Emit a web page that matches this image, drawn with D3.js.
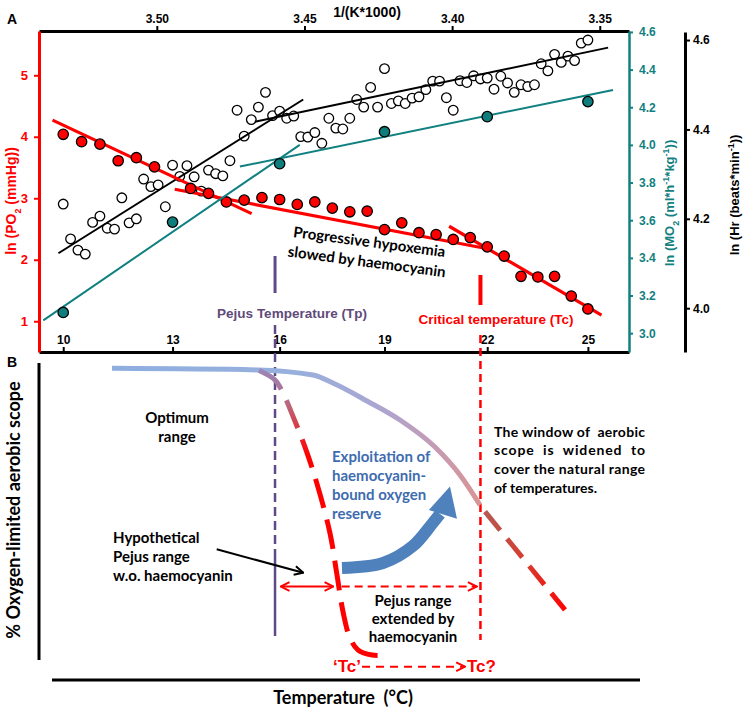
<!DOCTYPE html>
<html><head><meta charset="utf-8">
<script src="https://cdn.jsdelivr.net/npm/d3@7"></script>
<style>body{margin:0;background:#fff}svg{display:block}</style>
</head><body>
<svg id="c" width="744" height="712"></svg>
<script>
// ---------------- DATA ----------------
// Panel A: ln PO2 (red), ln MO2 (teal), ln Hr (open circles) vs temperature (°C)
const po2Temps = [10,10.5,11,11.5,12,12.5,13.5,14,14.5,15,15.5,16,16.5,17,17.5,18,18.5,19,19.5,20,20.5,21,21.5,22,22.5,23,23.5,24,24.5,25];
const po2Values = [4.04,3.92,3.88,3.61,3.66,3.51,3.16,3.08,2.94,2.97,3.01,2.98,2.90,2.94,2.84,2.78,2.79,2.49,2.60,2.44,2.41,2.33,2.36,2.21,2.06,1.73,1.72,1.73,1.41,1.20];
const mo2Temps = [10,13,16,19,22,25];
const mo2Values = [3.11,3.59,3.90,4.07,4.15,4.23];
const hrTemps = [10.0,10.2,10.4,10.6,10.8,11.0,11.2,11.4,11.6,11.8,12.0,12.2,12.4,12.6,12.8,13.0,13.2,13.4,13.6,13.8,14.0,14.2,14.4,14.6,14.8,15.0,15.2,15.4,15.6,15.8,16.0,16.2,16.4,16.6,16.8,17.0,17.2,17.4,17.6,17.8,18.0,18.2,18.4,18.6,18.8,19.0,19.2,19.4,19.6,19.8,20.0,20.2,20.4,20.6,20.8,21.0,21.2,21.4,21.6,21.8,22.0,22.2,22.4,22.6,22.8,23.0,23.2,23.4,23.6,23.8,24.0,24.2,24.4,24.6,24.8,25.0];
const hrValues = [4.233,4.155,4.130,4.121,4.192,4.206,4.179,4.177,4.247,4.191,
  4.200,4.289,4.272,4.276,4.227,4.320,4.295,4.319,4.294,4.262,
  4.309,4.301,4.296,4.330,4.443,4.385,4.422,4.450,4.483,4.431,
  4.441,4.425,4.430,4.384,4.383,4.393,4.369,4.425,4.403,4.401,
  4.425,4.467,4.450,4.494,4.450,4.536,4.458,4.464,4.458,4.470,
  4.473,4.489,4.508,4.508,4.471,4.443,4.509,4.505,4.520,4.513,
  4.515,4.490,4.519,4.504,4.483,4.500,4.496,4.500,4.547,4.531,
  4.568,4.550,4.564,4.554,4.593,4.600];
// regression segments [temperature, value]
const po2Fits = [[[9.71,4.27],[15.21,2.75]], [[13.06,3.146],[21.93,2.187]], [[20.88,2.545],[25.41,1.098]]];
const mo2Fits = [[[9.46,3.068],[16.57,4.0]], [[14.88,3.885],[25.76,4.292]]];
const hrFits  = [[[9.87,4.123],[16.67,4.467]], [[15.30,4.417],[25.61,4.583]]];
const pejusT = 15.87, criticalT = 21.8;
// tick labels
const invKTicks = [3.50,3.45,3.40,3.35];
const tempTicks = [10,13,16,19,22,25];
const po2Ticks = [1,2,3,4,5];
const mo2Ticks = [3.0,3.2,3.4,3.6,3.8,4.0,4.2,4.4,4.6];
const hrTicks = [4.0,4.2,4.4,4.6];

// Panel B (conceptual, units: temperature 0-100, scope 0-100)
const optimumCurve = [[12,97.4],[36.17,96.9],[45.5,95.3],[49.17,92.5],[54.5,87.2],[60,81.25],[65.83,72.8],[70,64.06],[73.33,54.7]];
const widenedTail = [[74.17,52.6],[87.5,21.9]];
const hypoCurve = [[36.5,96.7],[39.17,93.75],[40.5,89.7],[41.95,83.4],[44.17,72.8],[46.12,61.6],[48.33,45.9],[49.45,33.4],[50.55,20.9],[51.67,13.1],[53,9.4],[55.33,7.8],[57.67,7.8]];
const blueArrowBody = [[50.33,35],[57.17,36.56],[62.17,41.9],[65.33,48.75],[66.67,51.9]];
const blueArrowHead = [[68.33,60.5],[64.8,53.1],[69.5,50.4]];
const hypoRange = [[40.12,29.2],[48.89,29.2]];
const extRange = [[50.28,29.2],[72.78,29.2]];
const tcArrow = [[53.67,4.16],[70.83,4.16]];
const blackArrow = [[29.45,40.84],[43.88,33.53]];

// ---------------- DRAW ----------------
const svg = d3.select("#c");
const FA = "'Liberation Sans', Arial, sans-serif";
const FC = "Lato, 'Open Sans', sans-serif";
const RED = "#ff0000", TEAL = "#118080", PURPLE = "#5f4a87", BLUE = "#4f81bd";

const invK = t => 1000/(t+273.15);
const x = d3.scaleLinear().domain([3.5399,3.3401]).range([39,629]);
const xT = t => x(invK(t));
const yPO2 = d3.scaleLinear().domain([0.5,5.72]).range([352,31]);
const yMO2 = d3.scaleLinear().domain([2.9,4.605]).range([352,31]);
const yHR = d3.scaleLinear().domain([3.902,4.618]).range([352,32]);

const defs = svg.append("defs");
function marker(id, color){
  defs.append("marker").attr("id",id).attr("viewBox","0 0 10 10").attr("refX",9).attr("refY",5)
    .attr("markerWidth",11).attr("markerHeight",11).attr("markerUnits","userSpaceOnUse")
    .attr("orient","auto-start-reverse")
    .append("path").attr("d","M1,1 L9,5 L1,9").attr("fill","none").attr("stroke",color).attr("stroke-width",1.8);
}
marker("arR", RED); marker("arK", "#000");

function styleAxis(g, color, w, fs){
  g.select(".domain").attr("stroke",color).attr("stroke-width",w);
  g.selectAll(".tick line").attr("stroke",color).attr("stroke-width",2);
  g.selectAll(".tick text").attr("fill",color).style("font-family",FA).style("font-weight","bold").style("font-size",fs+"px");
}

// axes panel A
const gTop = svg.append("g").attr("transform","translate(0,31)")
  .call(d3.axisTop(x).tickValues(invKTicks).tickFormat(d3.format(".2f")).tickSize(5).tickSizeOuter(0).tickPadding(3));
styleAxis(gTop,"#000",3,12);
const gBot = svg.append("g").attr("transform","translate(0,352)")
  .call(d3.axisTop(x).tickValues(tempTicks.map(invK)).tickFormat((d,i)=>tempTicks[i]).tickSize(5).tickSizeOuter(0).tickPadding(3));
styleAxis(gBot,"#000",3,12);
const gL = svg.append("g").attr("transform","translate(39,0)")
  .call(d3.axisLeft(yPO2).tickValues(po2Ticks).tickFormat(d3.format("d")).tickSize(5).tickSizeOuter(0).tickPadding(6));
styleAxis(gL,RED,3,13);
const gM = svg.append("g").attr("transform","translate(629,0)")
  .call(d3.axisRight(yMO2).tickValues(mo2Ticks).tickFormat(d3.format(".1f")).tickSize(4).tickSizeOuter(0).tickPadding(6));
styleAxis(gM,TEAL,2.5,12);
const gH = svg.append("g").attr("transform","translate(685,0)")
  .call(d3.axisRight(yHR).tickValues(hrTicks).tickFormat(d3.format(".1f")).tickSize(5).tickSizeOuter(0).tickPadding(3));
styleAxis(gH,"#000",3,12);

// axis titles
function txt(xp, yp, s, o){
  o = o || {};
  const t = svg.append("text").attr("x",xp).attr("y",yp).text(s).attr("xml:space","preserve")
    .style("font-family",o.f||FA).style("font-weight","bold").style("font-size",(o.fs||14)+"px")
    .attr("fill",o.c||"#000").attr("text-anchor",o.a||"start");
  if (o.tl) t.attr("textLength",o.tl).attr("lengthAdjust","spacing");
  return t;
}
txt(7,24,"A",{fs:14});
txt(367,17,"1/(K*1000)",{a:"middle",fs:14});
const lt = svg.append("text").attr("transform","translate(16,201) rotate(-90)").attr("text-anchor","middle")
  .style("font-family",FA).style("font-weight","bold").style("font-size","14px").attr("fill",RED);
lt.append("tspan").text("ln (PO");
lt.append("tspan").text("2").attr("baseline-shift","sub").style("font-size","9px");
lt.append("tspan").text(" (mmHg))");
const mt = svg.append("text").attr("transform","translate(674,203) rotate(-90)").attr("text-anchor","middle")
  .style("font-family",FA).style("font-weight","bold").style("font-size","13px").attr("fill",TEAL);
mt.append("tspan").text("ln (MO");
mt.append("tspan").text("2").attr("baseline-shift","sub").style("font-size","9px");
mt.append("tspan").text(" (ml*h");
mt.append("tspan").text("-1").attr("baseline-shift","super").style("font-size","9px");
mt.append("tspan").text("*kg");
mt.append("tspan").text("-1").attr("baseline-shift","super").style("font-size","9px");
mt.append("tspan").text("))");
const ht = svg.append("text").attr("transform","translate(739,195) rotate(-90)").attr("text-anchor","middle")
  .style("font-family",FA).style("font-weight","bold").style("font-size","13px").attr("fill","#000");
ht.append("tspan").text("ln (Hr (beats*min");
ht.append("tspan").text("-1").attr("baseline-shift","super").style("font-size","9px");
ht.append("tspan").text("))");

// data marks panel A
const fitLine = (ys) => d3.line().x(d=>xT(d[0])).y(d=>ys(d[1]));
const hrData = hrTemps.map((t,i)=>[t,hrValues[i]]);
svg.append("g").selectAll("circle").data(hrData).join("circle")
  .attr("cx",d=>xT(d[0])).attr("cy",d=>yHR(d[1])).attr("r",4.8)
  .attr("fill","#fff").attr("stroke","#000").attr("stroke-width",1.3);
svg.append("g").selectAll("path").data(hrFits).join("path")
  .attr("d",fitLine(yHR)).attr("stroke","#000").attr("stroke-width",2).attr("fill","none");
svg.append("g").selectAll("path").data(po2Fits).join("path")
  .attr("d",fitLine(yPO2)).attr("stroke",RED).attr("stroke-width",3.2).attr("fill","none");
const po2Data = po2Temps.map((t,i)=>[t,po2Values[i]]);
svg.append("g").selectAll("circle").data(po2Data).join("circle")
  .attr("cx",d=>xT(d[0])).attr("cy",d=>yPO2(d[1])).attr("r",5.2)
  .attr("fill",RED).attr("stroke","#000").attr("stroke-width",1.3);
svg.append("g").selectAll("path").data(mo2Fits).join("path")
  .attr("d",fitLine(yMO2)).attr("stroke",TEAL).attr("stroke-width",2).attr("fill","none");
const mo2Data = mo2Temps.map((t,i)=>[t,mo2Values[i]]);
svg.append("g").selectAll("circle").data(mo2Data).join("circle")
  .attr("cx",d=>xT(d[0])).attr("cy",d=>yMO2(d[1])).attr("r",5.2)
  .attr("fill","#0e7d7c").attr("stroke","#000").attr("stroke-width",1.3);

// annotation text A
const ph = svg.append("g").attr("transform","translate(368,252) rotate(7.5)");
ph.append("text").attr("y",-5).attr("text-anchor","middle").text("Progressive hypoxemia")
  .style("font-family",FC).style("font-weight","bold").style("font-size","15px");
ph.append("text").attr("y",15).attr("text-anchor","middle").text("slowed by haemocyanin")
  .style("font-family",FC).style("font-weight","bold").style("font-size","15px");
txt(292,318,"Pejus Temperature (Tp)",{a:"middle",fs:13.5,c:"#604a7b"});
txt(496,324,"Critical temperature (Tc)",{a:"middle",fs:13.5,c:RED});

// vertical markers
const xp = xT(pejusT), xc = xT(criticalT);
svg.append("line").attr("x1",xp).attr("x2",xp).attr("y1",256).attr("y2",293).attr("stroke",PURPLE).attr("stroke-width",3);
svg.append("line").attr("x1",xp).attr("x2",xp).attr("y1",325).attr("y2",557).attr("stroke",PURPLE).attr("stroke-width",2.5).attr("stroke-dasharray","9,5");
svg.append("line").attr("x1",xp).attr("x2",xp).attr("y1",557).attr("y2",636).attr("stroke",PURPLE).attr("stroke-width",2.5);
svg.append("line").attr("x1",xc).attr("x2",xc).attr("y1",275).attr("y2",305).attr("stroke",RED).attr("stroke-width",4);
svg.append("line").attr("x1",xc).attr("x2",xc).attr("y1",335).attr("y2",640).attr("stroke",RED).attr("stroke-width",2.5).attr("stroke-dasharray","8,5");

// ---------------- Panel B ----------------
const xB = d3.scaleLinear().domain([0,100]).range([40,640]);
const yB = d3.scaleLinear().domain([0,100]).range([680,360]);

svg.append("line").attr("x1",39).attr("x2",39).attr("y1",363).attr("y2",660).attr("stroke","#000").attr("stroke-width",3);
svg.append("line").attr("x1",52).attr("x2",640).attr("y1",680).attr("y2",680).attr("stroke","#000").attr("stroke-width",3);
txt(7,367,"B",{fs:14});
svg.append("text").attr("transform","translate(20,510) rotate(-90)").attr("text-anchor","middle").text("% Oxygen-limited aerobic scope")
  .style("font-family",FC).style("font-weight","bold").style("font-size","18px");
txt(343,704,"Temperature  (°C)",{a:"middle",f:FC,fs:18});

// gradients
const g1 = defs.append("linearGradient").attr("id","gOpt").attr("gradientUnits","userSpaceOnUse")
  .attr("x1",xB(12)).attr("x2",xB(73.33)).attr("y1",0).attr("y2",0);
[[0,"#8eaee0"],[0.5,"#97b0dc"],[0.72,"#aaa6d2"],[0.87,"#c39cb6"],[1,"#d99494"]].forEach(s=>g1.append("stop").attr("offset",s[0]).attr("stop-color",s[1]));
const g2 = defs.append("linearGradient").attr("id","gTail").attr("gradientUnits","userSpaceOnUse")
  .attr("x1",xB(74)).attr("x2",xB(88)).attr("y1",0).attr("y2",0);
[[0,"#b55a52"],[0.5,"#d63c30"],[1,"#ff0000"]].forEach(s=>g2.append("stop").attr("offset",s[0]).attr("stop-color",s[1]));
const g3 = defs.append("linearGradient").attr("id","gHypo").attr("gradientUnits","userSpaceOnUse")
  .attr("x1",0).attr("x2",0).attr("y1",yB(97)).attr("y2",yB(70));
[[0,"#9a86b8"],[0.4,"#b8687e"],[1,"#ff0000"]].forEach(s=>g3.append("stop").attr("offset",s[0]).attr("stop-color",s[1]));

const lineB = d3.line().x(d=>xB(d[0])).y(d=>yB(d[1]));
svg.append("path").datum(optimumCurve).attr("d",d3.line().x(d=>xB(d[0])).y(d=>yB(d[1])).curve(d3.curveMonotoneX)).attr("fill","none")
  .attr("stroke","url(#gOpt)").attr("stroke-width",5);
svg.append("path").datum(widenedTail).attr("d",lineB).attr("fill","none")
  .attr("stroke","url(#gTail)").attr("stroke-width",5).attr("stroke-dasharray","24,11");
svg.append("path").datum(hypoCurve).attr("d",d3.line().x(d=>xB(d[0])).y(d=>yB(d[1])).curve(d3.curveCatmullRom)).attr("fill","none")
  .attr("stroke","url(#gHypo)").attr("stroke-width",5).attr("stroke-dasharray","30,12");

// blue arrow
svg.append("path").datum(blueArrowBody).attr("d",d3.line().x(d=>xB(d[0])).y(d=>yB(d[1])).curve(d3.curveCatmullRom))
  .attr("fill","none").attr("stroke",BLUE).attr("stroke-width",12);
svg.append("path").datum(blueArrowHead).attr("d",d=>"M"+d.map(p=>xB(p[0])+","+yB(p[1])).join("L")+"Z").attr("fill",BLUE);

// red / black arrows
svg.append("path").datum(hypoRange).attr("d",lineB).attr("stroke",RED).attr("stroke-width",2)
  .attr("marker-start","url(#arR)").attr("marker-end","url(#arR)");
svg.append("path").datum(extRange).attr("d",lineB).attr("stroke",RED).attr("stroke-width",2)
  .attr("stroke-dasharray","8,5").attr("marker-end","url(#arR)");
svg.append("path").datum(tcArrow).attr("d",lineB).attr("stroke",RED).attr("stroke-width",2)
  .attr("stroke-dasharray","8,6").attr("marker-end","url(#arR)");
svg.append("path").datum(blackArrow).attr("d",lineB).attr("stroke","#000").attr("stroke-width",2)
  .attr("marker-end","url(#arK)");

// panel B text
txt(177,423,"Optimum",{a:"middle",f:FC,fs:15});
txt(177,442,"range",{a:"middle",f:FC,fs:15});
["Hypothetical","Pejus range","w.o. haemocyanin"].forEach((s,i)=>txt(113,543+i*19,s,{f:FC,fs:15}));
["Exploitation of","haemocyanin-","bound oxygen","reserve"].forEach((s,i)=>txt(332,461.5+i*19,s,{f:FC,fs:15,c:"#3e6caf"}));
["Pejus range","extended by","haemocyanin"].forEach((s,i)=>txt(413,606+i*18,s,{a:"middle",f:FC,fs:15}));
const win = ["The window of  aerobic","scope  is  widened  to","cover the natural range","of temperatures."];
win.forEach((s,i)=>txt(494,436.5+i*18.7,s,{f:FC,fs:14,tl: i<3?151:null}));
txt(347,672,"\u2018Tc\u2019",{a:"middle",fs:17,c:RED});
txt(467,672,"Tc?",{fs:17,c:RED});
</script>
</body></html>
